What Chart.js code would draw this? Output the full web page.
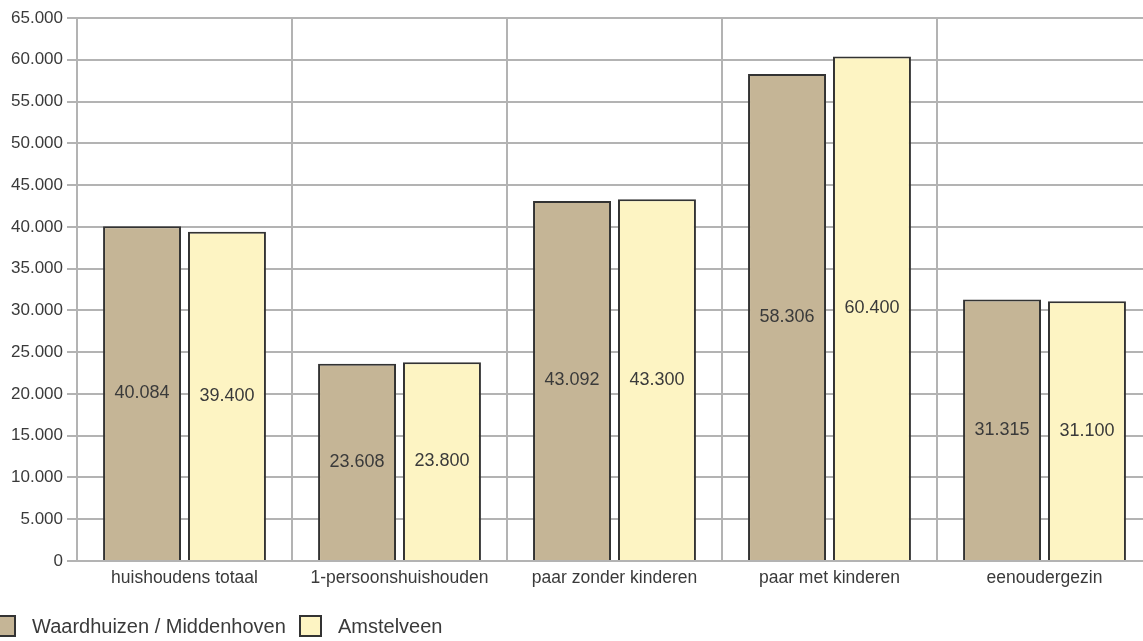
<!DOCTYPE html>
<html>
<head>
<meta charset="utf-8">
<script src="https://cdn.jsdelivr.net/npm/chart.js@4.4.1/dist/chart.umd.min.js"></script>
<style>
  html, body { margin: 0; padding: 0; background: #fff; overflow: hidden; }
  #wrap { width: 1155px; height: 641px; position: relative; }
</style>
</head>
<body>
<div id="wrap"><canvas id="chart"></canvas></div>
<script>
const categories = ['huishoudens totaal', '1-persoonshuishouden', 'paar zonder kinderen', 'paar met kinderen', 'eenoudergezin'];
const seriesNames = ['Waardhuizen / Middenhoven', 'Amstelveen'];
const waardhuizen = [40084, 23608, 43092, 58306, 31315];
const amstelveen = [39400, 23800, 43300, 60400, 31100];
const colors = ['#c5b596', '#fdf4c3'];

const FONT = '"Liberation Sans", Arial, sans-serif';
const TEXT = '#3a3a3a';
const GRID = '#b3b3b3';

function fmt(v) {
  return String(v).replace(/\B(?=(\d{3})+(?!\d))/g, '.');
}

// waarden midden in de staaf
const valueLabels = {
  id: 'valueLabels',
  afterDatasetsDraw(chart) {
    const ctx = chart.ctx;
    ctx.save();
    ctx.font = '18px ' + FONT;
    ctx.fillStyle = TEXT;
    ctx.textAlign = 'center';
    ctx.textBaseline = 'middle';
    chart.data.datasets.forEach((ds, i) => {
      chart.getDatasetMeta(i).data.forEach((bar, j) => {
        ctx.fillText(fmt(ds.data[j]), bar.x, (bar.y + bar.base) / 2);
      });
    });
    ctx.restore();
  }
};

// legenda linksonder
const bottomLegend = {
  id: 'bottomLegend',
  afterDraw(chart) {
    const ctx = chart.ctx;
    const pos = [{ box: -6, text: 32 }, { box: 300, text: 338 }];
    ctx.save();
    ctx.font = '20px ' + FONT;
    ctx.textBaseline = 'middle';
    chart.data.datasets.forEach((ds, i) => {
      ctx.fillStyle = ds.backgroundColor;
      ctx.strokeStyle = '#333';
      ctx.lineWidth = 2;
      ctx.fillRect(pos[i].box, 616, 21, 20);
      ctx.strokeRect(pos[i].box, 616, 21, 20);
      ctx.fillStyle = TEXT;
      ctx.fillText(ds.label, pos[i].text, 627);
    });
    ctx.restore();
  }
};

new Chart(document.getElementById('chart'), {
  type: 'bar',
  data: {
    labels: categories,
    datasets: [
      { label: seriesNames[0], data: waardhuizen, backgroundColor: colors[0], borderColor: '#333', borderWidth: 2 },
      { label: seriesNames[1], data: amstelveen, backgroundColor: colors[1], borderColor: '#333', borderWidth: 2 }
    ]
  },
  options: {
    responsive: true,
    maintainAspectRatio: false,
    animation: false,
    layout: { padding: { top: 18, right: 3, left: 0, bottom: 0 } },
    datasets: { bar: { categoryPercentage: 0.79, barPercentage: 0.918 } },
    plugins: {
      legend: { display: false },
      tooltip: { enabled: false }
    },
    scales: {
      x: {
        grid: { offset: true, color: GRID, lineWidth: 2, drawTicks: false },
        border: { color: GRID, width: 2 },
        ticks: { color: TEXT, font: { family: FONT, size: 17.5 }, padding: 7, maxRotation: 0 },
        afterFit(scale) { scale.height = 80; }
      },
      y: {
        min: 0,
        max: 65000,
        grid: { color: GRID, lineWidth: 2, tickLength: 10 },
        border: { color: GRID, width: 2 },
        ticks: { stepSize: 5000, color: TEXT, font: { family: FONT, size: 17 }, padding: 4, callback: v => fmt(v) },
        afterFit(scale) { scale.width = 77; }
      }
    }
  },
  plugins: [valueLabels, bottomLegend]
});
</script>
</body>
</html>
